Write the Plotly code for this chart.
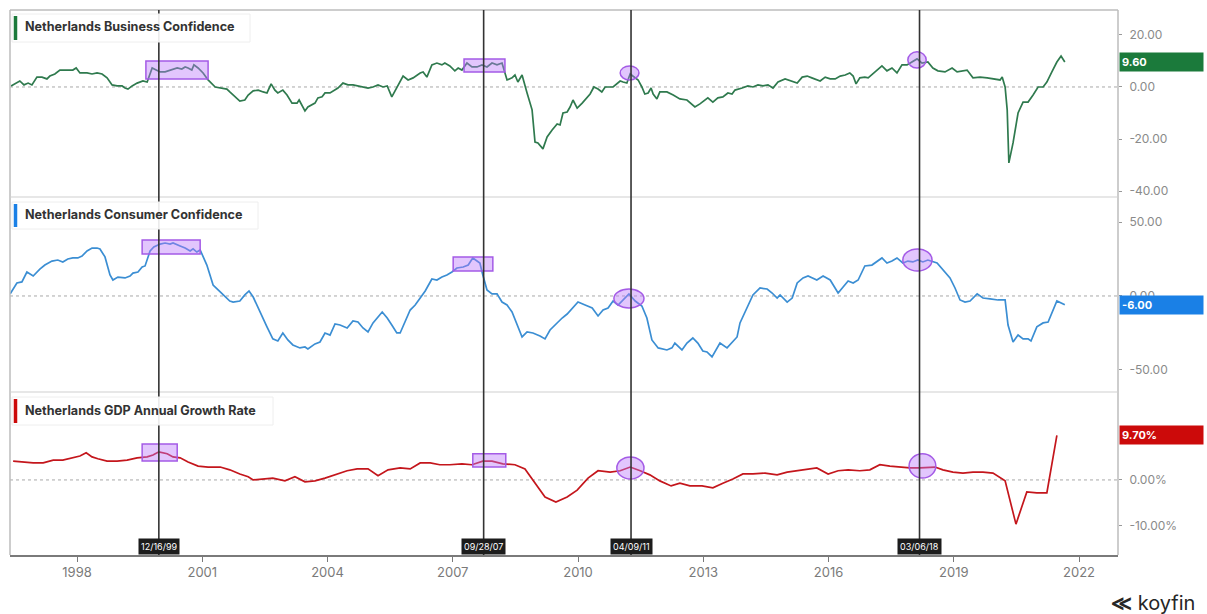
import plotly.graph_objects as go

# ---------------- data ----------------
# Netherlands Business Confidence (decimal year, index)
biz_t = [1996.42, 1996.63, 1996.73, 1996.83, 1996.92, 1997.04, 1997.16, 1997.28, 1997.35, 1997.47,
         1997.59, 1997.76, 1997.90, 1997.98, 1998.07, 1998.24, 1998.36, 1998.48, 1998.60, 1998.72,
         1998.84, 1998.96, 1999.08, 1999.15, 1999.22, 1999.32, 1999.44, 1999.58, 1999.68, 1999.80,
         1999.92, 1999.99, 2000.11, 2000.23, 2000.40, 2000.51, 2000.59, 2000.66, 2000.75, 2000.80,
         2000.90, 2001.02, 2001.14, 2001.31, 2001.43, 2001.59, 2001.66, 2001.78, 2001.90, 2002.02,
         2002.10, 2002.22, 2002.34, 2002.46, 2002.55, 2002.65, 2002.74, 2002.81, 2002.93, 2003.03,
         2003.15, 2003.27, 2003.32, 2003.46, 2003.53, 2003.70, 2003.77, 2003.87, 2003.94, 2004.06,
         2004.13, 2004.25, 2004.37, 2004.49, 2004.61, 2004.73, 2004.85, 2004.97, 2005.09, 2005.21,
         2005.33, 2005.43, 2005.54, 2005.66, 2005.74, 2005.81, 2005.93, 2006.05, 2006.22, 2006.29,
         2006.38, 2006.50, 2006.62, 2006.74, 2006.81, 2006.93, 2007.05, 2007.13, 2007.22, 2007.34,
         2007.46, 2007.58, 2007.70, 2007.82, 2007.94, 2008.06, 2008.18, 2008.30, 2008.42, 2008.49,
         2008.56, 2008.66, 2008.78, 2008.90, 2008.97, 2009.04, 2009.16, 2009.26, 2009.38, 2009.50,
         2009.57, 2009.64, 2009.74, 2009.81, 2009.88, 2009.98, 2010.10, 2010.22, 2010.29, 2010.38,
         2010.48, 2010.57, 2010.65, 2010.84, 2011.01, 2011.08, 2011.17, 2011.25, 2011.37, 2011.44,
         2011.53, 2011.60, 2011.68, 2011.75, 2011.80, 2011.89, 2011.96, 2012.13, 2012.28, 2012.44,
         2012.61, 2012.80, 2012.92, 2013.11, 2013.23, 2013.35, 2013.47, 2013.59, 2013.69, 2013.76,
         2013.93, 2014.07, 2014.19, 2014.31, 2014.43, 2014.55, 2014.67, 2014.79, 2014.96, 2015.13,
         2015.25, 2015.37, 2015.49, 2015.60, 2015.80, 2015.92, 2016.04, 2016.16, 2016.28, 2016.40,
         2016.51, 2016.59, 2016.66, 2016.75, 2016.87, 2016.95, 2017.11, 2017.28, 2017.40, 2017.52,
         2017.64, 2017.76, 2017.88, 2018.00, 2018.12, 2018.24, 2018.38, 2018.50, 2018.62, 2018.79,
         2018.96, 2019.08, 2019.20, 2019.32, 2019.46, 2019.63, 2019.80, 2019.94, 2020.11, 2020.16,
         2020.23, 2020.28, 2020.32, 2020.42, 2020.54, 2020.66, 2020.78, 2020.90, 2021.02, 2021.14,
         2021.23, 2021.35, 2021.47, 2021.57, 2021.66]
biz_v = [0.4, 2.3, 0.8, 1.5, 0.8, 3.8, 3.8, 3.1, 4.2, 5.0,
         6.5, 6.5, 6.5, 7.3, 5.4, 5.4, 5.0, 5.4, 5.0, 3.5,
         0.8, 0.4, 0.4, -0.4, -0.8, 0.4, 1.5, 2.3, 1.9, 7.3,
         6.5, 5.8, 5.8, 6.5, 7.3, 6.9, 7.7, 7.3, 6.5, 8.5,
         7.3, 5.4, 2.7, 0.0, -0.4, -0.8, -1.9, -3.8, -5.4, -5.0,
         -3.1, -1.5, -1.2, -1.9, -2.3, 1.2, -1.2, -2.3, -1.2, -3.1,
         -6.2, -6.2, -5.0, -9.2, -7.7, -6.2, -4.2, -3.8, -2.3, -2.3,
         -1.5, -0.4, 1.5, 0.8, 0.8, 0.4, 0.0, -0.4, 0.0, 0.8,
         0.0, 0.4, -3.8, -0.4, 1.9, 4.2, 2.7, 3.5, 5.4, 5.8,
         3.8, 8.5, 9.2, 8.5, 9.2, 8.1, 6.2, 7.3, 6.5, 9.2,
         7.7, 7.7, 8.5, 7.7, 9.2, 8.5, 9.2, 2.7, 3.5, 4.6,
         1.9, 4.6, -2.3, -8.8, -21.2, -21.5, -23.8, -19.2, -16.5, -14.2,
         -14.6, -10.0, -9.6, -7.7, -5.0, -8.1, -6.2, -4.2, -2.7, 0.0,
         -0.8, -1.9, 0.0, 0.0, 2.3, 1.9, 1.5, 5.0, 3.5, 2.7,
         0.0, -2.7, -2.3, -0.4, -2.7, -4.6, -1.9, -1.9, -3.1, -4.6,
         -5.0, -7.7, -6.5, -4.2, -5.8, -4.2, -3.8, -2.3, -2.7, -1.2,
         -0.4, 0.4, 0.0, 0.8, 0.4, 0.8, -0.4, 1.9, 3.1, 2.3,
         1.5, 3.8, 4.2, 3.5, 2.3, 3.8, 3.1, 3.1, 4.2, 4.6,
         5.4, 4.2, 1.2, 3.5, 3.8, 3.5, 5.8, 8.1, 6.2, 7.3,
         5.4, 8.5, 8.5, 9.6, 10.8, 9.2, 9.6, 7.3, 6.2, 5.8,
         7.3, 5.8, 6.2, 6.5, 3.5, 3.8, 3.5, 3.1, 2.7, 3.8,
         0.0, -8.8, -29.2, -21.5, -10.0, -5.8, -5.8, -3.1, 0.0, 0.0,
         1.9, 5.8, 9.6, 11.9, 9.6]

# Netherlands Consumer Confidence (decimal year, index)
con_t = [1996.40, 1996.56, 1996.68, 1996.80, 1996.95, 1997.11, 1997.23, 1997.40, 1997.54, 1997.66,
         1997.78, 1997.90, 1998.02, 1998.12, 1998.24, 1998.36, 1998.48, 1998.55, 1998.67, 1998.79,
         1998.86, 1998.98, 1999.15, 1999.27, 1999.34, 1999.46, 1999.56, 1999.63, 1999.75, 1999.84,
         1999.99, 2000.11, 2000.23, 2000.30, 2000.47, 2000.59, 2000.71, 2000.78, 2000.87, 2000.95,
         2001.11, 2001.26, 2001.38, 2001.50, 2001.66, 2001.74, 2001.90, 2002.02, 2002.12, 2002.22,
         2002.38, 2002.55, 2002.69, 2002.81, 2002.93, 2003.05, 2003.17, 2003.34, 2003.46, 2003.53,
         2003.70, 2003.82, 2003.94, 2004.06, 2004.18, 2004.30, 2004.47, 2004.61, 2004.73, 2004.85,
         2004.97, 2005.09, 2005.31, 2005.43, 2005.54, 2005.66, 2005.74, 2005.86, 2005.98, 2006.10,
         2006.22, 2006.34, 2006.50, 2006.62, 2006.74, 2006.86, 2006.98, 2007.10, 2007.25, 2007.37,
         2007.48, 2007.65, 2007.72, 2007.82, 2007.94, 2008.06, 2008.18, 2008.30, 2008.42, 2008.54,
         2008.66, 2008.78, 2008.92, 2009.09, 2009.21, 2009.33, 2009.50, 2009.62, 2009.74, 2009.86,
         2010.00, 2010.17, 2010.34, 2010.48, 2010.60, 2010.72, 2010.84, 2010.96, 2011.08, 2011.22,
         2011.37, 2011.53, 2011.65, 2011.77, 2011.92, 2012.13, 2012.25, 2012.32, 2012.49, 2012.61,
         2012.75, 2012.87, 2012.99, 2013.09, 2013.21, 2013.28, 2013.40, 2013.57, 2013.71, 2013.81,
         2013.88, 2014.05, 2014.19, 2014.36, 2014.53, 2014.65, 2014.77, 2014.84, 2015.01, 2015.13,
         2015.25, 2015.39, 2015.51, 2015.72, 2015.87, 2016.04, 2016.23, 2016.35, 2016.47, 2016.59,
         2016.71, 2016.87, 2017.04, 2017.28, 2017.40, 2017.52, 2017.64, 2017.78, 2017.90, 2018.02,
         2018.14, 2018.26, 2018.38, 2018.60, 2018.74, 2018.91, 2019.03, 2019.15, 2019.27, 2019.39,
         2019.56, 2019.70, 2019.87, 2020.06, 2020.23, 2020.30, 2020.42, 2020.54, 2020.66, 2020.78,
         2020.85, 2020.99, 2021.14, 2021.26, 2021.47, 2021.66]
con_v = [1.4, 8.8, 9.5, 16.2, 13.5, 18.2, 20.9, 23.6, 24.3, 23.0,
         25.0, 25.7, 25.7, 27.0, 30.4, 32.4, 32.4, 31.8, 26.4, 14.2,
         10.8, 12.8, 12.2, 13.5, 15.5, 16.2, 19.6, 20.3, 30.4, 33.1,
         35.1, 35.8, 35.1, 35.8, 33.8, 32.4, 30.4, 31.8, 29.7, 31.1,
         20.9, 7.4, 4.1, 0.7, -3.4, -4.1, -3.4, 0.7, 3.4, -0.7,
         -10.8, -20.9, -29.0, -30.4, -25.0, -29.7, -33.1, -35.1, -34.5, -35.8,
         -32.4, -31.1, -25.0, -26.4, -18.9, -19.6, -21.6, -16.9, -17.6, -21.6,
         -24.3, -18.2, -10.8, -14.9, -19.6, -25.0, -25.0, -17.6, -9.5, -6.1,
         -1.4, 3.4, 11.5, 10.8, 12.8, 14.2, 16.2, 18.9, 19.6, 20.9,
         25.7, 22.3, 14.2, 4.1, 1.4, 1.4, -4.1, -6.1, -10.8, -19.6,
         -27.7, -24.3, -25.0, -27.0, -29.0, -23.0, -18.2, -14.9, -12.2, -8.1,
         -4.1, -6.1, -8.1, -13.5, -9.5, -8.1, -3.4, -6.1, -2.7, 1.4,
         -3.4, -6.8, -14.9, -29.7, -35.1, -36.5, -35.1, -31.8, -36.5, -31.8,
         -28.4, -31.8, -37.2, -37.8, -41.2, -37.8, -31.8, -35.1, -31.1, -27.7,
         -18.2, -8.1, 0.7, 5.4, 4.7, 2.0, -1.4, 0.7, -4.1, -1.4,
         8.8, 12.2, 13.5, 10.8, 13.5, 10.8, 2.0, 6.1, 10.1, 8.8,
         10.8, 20.3, 20.9, 25.7, 22.3, 23.6, 25.7, 22.3, 23.6, 23.0,
         24.3, 23.0, 24.3, 22.3, 17.6, 12.2, 5.4, -2.7, -4.1, -3.4,
         1.4, -1.4, -2.0, -2.7, -2.7, -19.6, -31.1, -26.4, -29.0, -29.0,
         -30.4, -20.9, -18.2, -17.6, -3.4, -6.0]

# Netherlands GDP Annual Growth Rate (decimal year, %)
gdp_t = [1996.47, 1996.71, 1996.95, 1997.19, 1997.43, 1997.66, 1997.90, 1998.07, 1998.22, 1998.36,
         1998.50, 1998.72, 1998.96, 1999.20, 1999.44, 1999.68, 1999.82, 1999.96, 2000.16, 2000.30,
         2000.47, 2000.66, 2000.90, 2001.14, 2001.43, 2001.66, 2001.90, 2002.10, 2002.22, 2002.46,
         2002.69, 2002.98, 2003.22, 2003.46, 2003.70, 2003.94, 2004.23, 2004.47, 2004.71, 2004.97,
         2005.21, 2005.45, 2005.74, 2005.98, 2006.22, 2006.46, 2006.69, 2006.93, 2007.22, 2007.46,
         2007.72, 2007.94, 2008.20, 2008.49, 2008.73, 2008.97, 2009.21, 2009.47, 2009.74, 2009.98,
         2010.24, 2010.48, 2010.77, 2011.01, 2011.25, 2011.49, 2011.72, 2011.96, 2012.23, 2012.44,
         2012.68, 2012.97, 2013.23, 2013.47, 2013.71, 2013.95, 2014.19, 2014.48, 2014.77, 2015.01,
         2015.25, 2015.49, 2015.72, 2015.99, 2016.23, 2016.47, 2016.75, 2016.99, 2017.23, 2017.47,
         2017.71, 2017.95, 2018.19, 2018.55, 2018.74, 2018.98, 2019.22, 2019.46, 2019.70, 2019.94,
         2020.23, 2020.49, 2020.75, 2020.99, 2021.23, 2021.47]
gdp_v = [4.1, 3.9, 3.7, 3.7, 4.3, 4.3, 4.8, 5.2, 5.9, 5.0,
         4.6, 4.1, 4.1, 4.3, 4.8, 5.0, 5.4, 6.1, 5.7, 5.0,
         4.8, 3.9, 3.0, 2.8, 2.8, 2.2, 1.3, 0.7, 0.0, 0.2,
         0.4, -0.2, 0.7, -0.4, -0.2, 0.4, 1.3, 2.0, 2.4, 2.4,
         0.9, 2.2, 2.6, 2.4, 3.7, 3.7, 3.3, 3.3, 3.5, 3.3,
         4.1, 4.1, 3.5, 3.3, 2.4, -0.7, -3.7, -4.8, -3.7, -2.2,
         0.4, 2.0, 1.7, 2.0, 2.8, 2.0, 1.1, -0.2, -1.3, -0.7,
         -1.3, -1.3, -1.7, -0.7, 0.2, 1.3, 1.3, 1.5, 1.1, 1.7,
         2.0, 2.2, 2.6, 1.3, 2.0, 2.2, 2.0, 2.2, 3.3, 3.0,
         2.8, 2.6, 2.6, 2.8, 2.2, 1.7, 1.5, 1.7, 1.7, 1.5,
         -0.2, -9.6, -2.6, -2.8, -2.8, 9.7]

# Axis ticks
year_ticks = [1998, 2001, 2004, 2007, 2010, 2013, 2016, 2019, 2022]
biz_ticks = [-40, -20, 0, 20]
biz_ticktext = ["-40.00", "-20.00", "0.00", "20.00"]
con_ticks = [-50, 0, 50]
con_ticktext = ["-50.00", "0.00", "50.00"]
gdp_ticks = [-10, 0]
gdp_ticktext = ["-10.00%", "0.00%"]

# Marker dates (vertical lines) and their labels
event_t = [1999.96, 2007.74, 2011.27, 2018.18]
event_lbl = ["12/16/99", "09/28/07", "04/09/11", "03/06/18"]

# ---------------- styling ----------------
GREEN = "#2f7a4e"
GREEN_TAG = "#1b7a3b"
BLUE = "#3b8ed3"
BLUE_TAG = "#1a80e6"
RED = "#c4161c"
RED_TAG = "#cc0a0a"
FONT = "Inter"

W, H = 1207, 614
ML, MR, MT, MB = 10, 89, 10, 59
PW, PH = W - ML - MR, H - MT - MB


def px(xpix):
    return (xpix - ML) / PW


def py(ypix):
    return (H - MB - ypix) / PH


D1 = [py(197), 1.0]
D2 = [py(392), py(197)]
D3 = [0.0, py(392)]

fig = go.Figure()
fig.add_trace(go.Scatter(x=biz_t, y=biz_v, yaxis="y", mode="lines",
                         line=dict(color=GREEN, width=1.7), hoverinfo="skip"))
fig.add_trace(go.Scatter(x=con_t, y=con_v, yaxis="y2", mode="lines",
                         line=dict(color=BLUE, width=1.7), hoverinfo="skip"))
fig.add_trace(go.Scatter(x=gdp_t, y=gdp_v, yaxis="y3", mode="lines",
                         line=dict(color=RED, width=1.7), hoverinfo="skip"))

yax_common = dict(side="right", anchor="x", showgrid=False, zeroline=False,
                  showline=False, ticks="outside", ticklen=3, tickcolor="#999",
                  ticklabelstandoff=5,
                  tickfont=dict(family=FONT, size=12, color="#8a8a8a"), fixedrange=True)

shapes = []
annotations = []

# panel frames
frame = dict(type="line", xref="paper", yref="paper", line=dict(color="#bdbdbd", width=1.5))
shapes += [
    dict(frame, x0=0, x1=1, y0=1, y1=1),
    dict(frame, x0=0, x1=0, y0=0, y1=1),
    dict(frame, x0=1, x1=1, y0=0, y1=1),
    dict(frame, x0=0, x1=1, y0=D1[0], y1=D1[0], line=dict(color="#d0d0d0", width=1.2)),
    dict(frame, x0=0, x1=1, y0=D2[0], y1=D2[0], line=dict(color="#d0d0d0", width=1.2)),
]

# dotted zero lines
for yr in ["y", "y2", "y3"]:
    shapes.append(dict(type="line", xref="paper", yref=yr, x0=0, x1=1, y0=0, y1=0,
                       line=dict(color="#a8a8a8", width=1, dash="dot"), layer="below"))

# highlight boxes and ellipses
HL = dict(fillcolor="rgba(186,120,250,0.42)", line=dict(color="#a45be6", width=1.5), layer="above")
highlights = [
    ("rect", "y", 1999.65, 2001.14, 3.1, 10.0),
    ("rect", "y", 2007.27, 2008.25, 5.8, 10.8),
    ("circle", "y", 2011.01, 2011.46, 2.7, 8.1),
    ("circle", "y", 2017.90, 2018.34, 7.3, 13.5),
    ("rect", "y2", 1999.56, 2000.95, 28.4, 37.8),
    ("rect", "y2", 2007.01, 2007.96, 16.9, 26.4),
    ("circle", "y2", 2010.86, 2011.58, -8.1, 4.7),
    ("circle", "y2", 2017.78, 2018.48, 16.9, 31.8),
    ("rect", "y3", 1999.56, 2000.40, 4.1, 7.8),
    ("rect", "y3", 2007.48, 2008.27, 2.8, 5.7),
    ("circle", "y3", 2010.93, 2011.58, 0.2, 5.0),
    ("circle", "y3", 2017.93, 2018.57, 0.4, 5.7),
]
for kind, yr, x0, x1, y0, y1 in highlights:
    shapes.append(dict(HL, type=kind, xref="x", yref=yr, x0=x0, x1=x1, y0=y0, y1=y1))

# event lines with date tags
for t, lbl in zip(event_t, event_lbl):
    shapes.append(dict(type="line", xref="x", yref="paper", x0=t, x1=t, y0=0, y1=1,
                       line=dict(color="#333333", width=1.6), layer="above"))
    annotations.append(dict(x=t, xref="x", y=0, yref="paper", yanchor="bottom", xanchor="center",
                            text=lbl, showarrow=False, bgcolor="#1c1c1c", borderpad=2,
                            font=dict(family=FONT, size=9, color="white")))

# series title tags
titles = [
    ("Netherlands Business Confidence", GREEN_TAG, 14, 42, 250),
    ("Netherlands Consumer Confidence", BLUE_TAG, 202, 229, 258),
    ("Netherlands GDP Annual Growth Rate", RED_TAG, 397, 425, 273),
]
for text, col, ytop, ybot, xright in titles:
    shapes.append(dict(type="rect", xref="paper", yref="paper", x0=px(12), x1=px(xright),
                       y0=py(ybot), y1=py(ytop), fillcolor="rgba(255,255,255,0.9)",
                       line=dict(color="#eeeeee", width=1), layer="above"))
    shapes.append(dict(type="line", xref="paper", yref="paper", x0=px(15.5), x1=px(15.5),
                       y0=py(ybot - 2), y1=py(ytop + 2), line=dict(color=col, width=3.5),
                       layer="above"))
    annotations.append(dict(x=px(23), xref="paper", y=py((ytop + ybot) / 2 - 1), yref="paper",
                            xanchor="left", yanchor="middle", text="<b>%s</b>" % text,
                            showarrow=False, font=dict(family=FONT, size=12.6, color="#333333")))

# last-value tags on the right axis
last_tags = [
    ("y", biz_v[-1], "%.2f" % biz_v[-1], GREEN_TAG),
    ("y2", con_v[-1], "%.2f" % con_v[-1], BLUE_TAG),
    ("y3", gdp_v[-1], "%.2f%%" % gdp_v[-1], RED_TAG),
]
for yr, val, txt, col in last_tags:
    annotations.append(dict(x=1, xref="paper", y=val, yref=yr, xanchor="left", yanchor="middle",
                            text="<b>%s</b>" % txt, showarrow=False, bgcolor=col, width=79,
                            height=14, align="left", borderpad=2, xshift=1,
                            font=dict(family=FONT, size=11, color="white")))

# brand mark
annotations.append(dict(x=px(1197), xref="paper", y=py(603), yref="paper", text="<b>≪</b> koyfin",
                        showarrow=False, xanchor="right", yanchor="middle",
                        font=dict(family=FONT, size=20, color="#262626")))

fig.update_layout(
    width=W, height=H,
    margin=dict(l=ML, r=MR, t=MT, b=MB),
    paper_bgcolor="white", plot_bgcolor="white",
    showlegend=False,
    xaxis=dict(range=[1996.395, 2022.934], anchor="y3", showgrid=False, zeroline=False,
               showline=True, linecolor="#7a7a7a", linewidth=1.5,
               ticks="outside", ticklen=5, tickcolor="#7a7a7a",
               tickvals=year_ticks, ticktext=[str(y) for y in year_ticks],
               tickfont=dict(family=FONT, size=13, color="#7a7a7a"), fixedrange=True),
    yaxis=dict(yax_common, domain=D1, range=[-42.3, 29.6], tickvals=biz_ticks, ticktext=biz_ticktext),
    yaxis2=dict(yax_common, domain=D2, range=[-64.9, 66.9], tickvals=con_ticks, ticktext=con_ticktext),
    yaxis3=dict(yax_common, domain=D3, range=[-16.3, 19.1], tickvals=gdp_ticks, ticktext=gdp_ticktext),
    shapes=shapes,
    annotations=annotations,
)

fig.write_html("out.html")
